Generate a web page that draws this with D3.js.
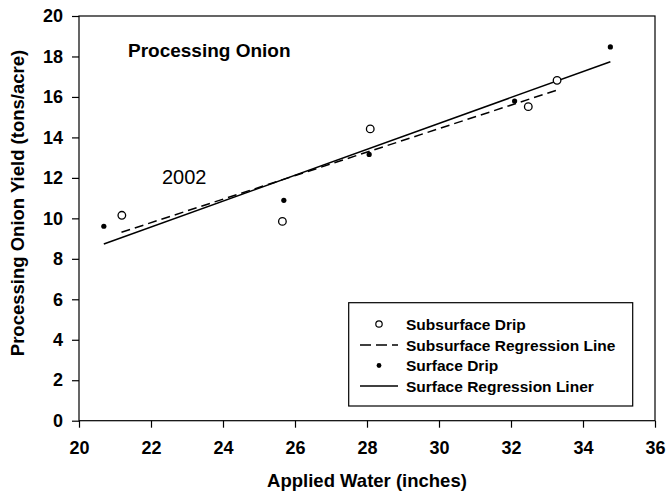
<!DOCTYPE html>
<meta charset="utf-8">
<script src="https://d3js.org/d3.v7.min.js"></script>
<style>
  body { margin: 0; background: #fff; }
  text { font-family: "Liberation Sans", Arial, sans-serif; fill: #000; }
</style>
<div id="chart"></div>
<script>

// values
var subsurfaceWater = [21.19, 25.65, 28.09, 32.48, 33.28]
var subsurfaceYield = [10.15, 9.85, 14.42, 15.52, 16.82]
var surfaceWater = [20.69, 25.69, 28.06, 32.10, 34.76]
var surfaceYield = [9.61, 10.89, 13.16, 15.80, 18.47]

// regression lines, start and end
var subsurfaceLineX = [21.18, 33.28]
var subsurfaceLineY = [9.31, 16.34]
var surfaceLineX = [20.69, 34.76]
var surfaceLineY = [8.73, 17.74]

var xTicks = [20, 22, 24, 26, 28, 30, 32, 34, 36]
var yTicks = [0, 2, 4, 6, 8, 10, 12, 14, 16, 18, 20]

var legendLabels = ["Subsurface Drip", "Subsurface Regression Line", "Surface Drip", "Surface Regression Liner"]

var width = 668,
    height = 494

var svg = d3.select("#chart")
  .append("svg")
    .attr("width", width)
    .attr("height", height)

var x = d3.scaleLinear().domain([20, 36]).range([79, 655])
var y = d3.scaleLinear().domain([0, 20]).range([420.7, 16])

// frame
svg.append("rect")
  .attr("x", x(20)).attr("y", y(20))
  .attr("width", x(36) - x(20)).attr("height", y(0) - y(20))
  .attr("fill", "none").attr("stroke", "#000").attr("stroke-width", 1.2)

var xAxis = svg.append("g")
  .attr("transform", "translate(0," + y(0) + ")")
  .call(d3.axisBottom(x).tickValues(xTicks).tickSize(7).tickPadding(14).tickFormat(d3.format("d")))
var yAxis = svg.append("g")
  .attr("transform", "translate(" + x(20) + ",0)")
  .call(d3.axisLeft(y).tickValues(yTicks).tickSize(7).tickPadding(9).tickFormat(d3.format("d")))

svg.selectAll(".domain").remove()
svg.selectAll(".tick line").attr("stroke", "#000").attr("stroke-width", 1.2)
svg.selectAll(".tick text")
  .style("font-family", "'Liberation Sans', Arial, sans-serif")
  .style("font-size", "18px")
  .style("font-weight", "bold")
  .attr("fill", "#000")

// axis titles
svg.append("text")
  .attr("x", (x(20) + x(36)) / 2)
  .attr("y", 487)
  .attr("text-anchor", "middle")
  .style("font-size", "18.5px")
  .style("font-weight", "bold")
  .text("Applied Water (inches)")

svg.append("text")
  .attr("transform", "translate(24,203) rotate(-90)")
  .attr("text-anchor", "middle")
  .style("font-size", "18.5px")
  .style("font-weight", "bold")
  .text("Processing Onion Yield (tons/acre)")

// in-plot labels
svg.append("text")
  .attr("x", 128)
  .attr("y", 57)
  .style("font-size", "19px")
  .style("font-weight", "bold")
  .text("Processing Onion")

svg.append("text")
  .attr("x", 162)
  .attr("y", 184)
  .style("font-size", "20px")
  .text("2002")

// regression lines
var line = d3.line()
  .x(function(d) { return x(d[0]) })
  .y(function(d) { return y(d[1]) })

svg.append("path")
  .datum(d3.zip(surfaceLineX, surfaceLineY))
  .attr("d", line)
  .attr("fill", "none")
  .attr("stroke", "#000")
  .attr("stroke-width", 1.5)

svg.append("path")
  .datum(d3.zip(subsurfaceLineX, subsurfaceLineY))
  .attr("d", line)
  .attr("fill", "none")
  .attr("stroke", "#000")
  .attr("stroke-width", 1.5)
  .attr("stroke-dasharray", "9,5")

// points
svg.selectAll("circle.sub")
  .data(d3.zip(subsurfaceWater, subsurfaceYield))
  .enter()
  .append("circle")
    .attr("class", "sub")
    .attr("cx", function(d) { return x(d[0]) })
    .attr("cy", function(d) { return y(d[1]) })
    .attr("r", 3.8)
    .attr("fill", "#fff")
    .attr("stroke", "#000")
    .attr("stroke-width", 1.3)

svg.selectAll("circle.surf")
  .data(d3.zip(surfaceWater, surfaceYield))
  .enter()
  .append("circle")
    .attr("class", "surf")
    .attr("cx", function(d) { return x(d[0]) })
    .attr("cy", function(d) { return y(d[1]) })
    .attr("r", 2.6)
    .attr("fill", "#000")

// legend
var legend = svg.append("g")
legend.append("rect")
  .attr("x", 348.7).attr("y", 302.7)
  .attr("width", 284).attr("height", 103.3)
  .attr("fill", "#fff").attr("stroke", "#000").attr("stroke-width", 1.2)

var rowY = [324, 345, 365.5, 386]

legend.append("circle")
  .attr("cx", 379).attr("cy", rowY[0]).attr("r", 3.2)
  .attr("fill", "#fff").attr("stroke", "#000").attr("stroke-width", 1.2)
legend.append("line")
  .attr("x1", 360).attr("x2", 398).attr("y1", rowY[1]).attr("y2", rowY[1])
  .attr("stroke", "#000").attr("stroke-width", 1.5).attr("stroke-dasharray", "11,5")
legend.append("circle")
  .attr("cx", 379).attr("cy", rowY[2]).attr("r", 2.4)
  .attr("fill", "#000")
legend.append("line")
  .attr("x1", 360).attr("x2", 398).attr("y1", rowY[3]).attr("y2", rowY[3])
  .attr("stroke", "#000").attr("stroke-width", 1.5)

legend.selectAll("text.lab")
  .data(legendLabels)
  .enter()
  .append("text")
    .attr("class", "lab")
    .attr("x", 406)
    .attr("y", function(d, i) { return rowY[i] })
    .attr("dy", "0.36em")
    .style("font-size", "15.5px")
    .style("font-weight", "bold")
    .text(function(d) { return d })

</script>
